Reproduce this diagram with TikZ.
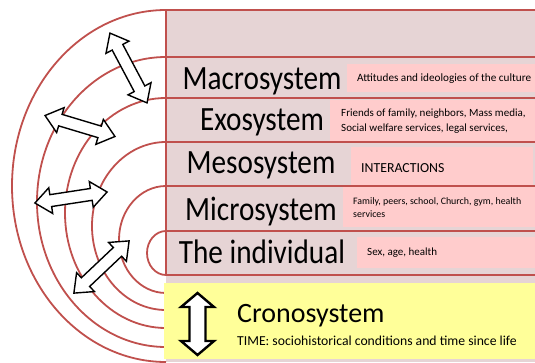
\documentclass[tikz,border=0pt]{standalone}
\usepackage{fontspec}
\setmainfont{Carlito}
\newfontfamily\squeezed[FakeStretch=0.86]{Carlito}
\usepackage{tikz}
\usetikzlibrary{calc}

\definecolor{ringred}{RGB}{192,80,77}
\definecolor{rowpink}{RGB}{230,212,213}
\definecolor{notepink}{RGB}{255,204,204}
\definecolor{cronoyellow}{RGB}{255,255,153}

\tikzset{
  ring/.style={draw=ringred, line width=1.8pt},
  bigtag/.style={anchor=base, inner sep=0pt, font=\squeezed\fontsize{34}{36}\selectfont},
  notebox/.style={anchor=north west, fill=notepink, inner sep=0pt},
  notetext/.style={anchor=west, inner sep=0pt, align=left, xshift=10pt},
  twoway/.style={draw=black, fill=white, line width=1.4pt, line join=miter}
}

\begin{document}
\begin{tikzpicture}[x=1pt, y=-1pt]
\useasboundingbox (0,0) rectangle (535,362);

% band of rows on the right
\fill[rowpink] (166,10) rectangle (535,362);

% note boxes
\node[notebox, minimum width=188pt, minimum height=28pt] (macronote) at (347,64) {};
\node[notebox, minimum width=205pt, minimum height=42pt] (exonote) at (330,100) {};
\node[notebox, minimum width=182pt, minimum height=38pt] (mesonote) at (351,147) {};
\node[notebox, minimum width=192pt, minimum height=40pt] (micronote) at (343,187) {};
\node[notebox, minimum width=178pt, minimum height=31pt] (indivnote) at (357,237) {};

\node[notetext, font=\fontsize{11.2}{13}\selectfont] (macrotext) at (macronote.west) {Attitudes and ideologies of the culture};
\node[notetext, font=\fontsize{11}{15}\selectfont, xshift=1pt] (exotext) at (exonote.west) {Friends of family, neighbors, Mass media,\\Social welfare services, legal services,};
\node[notetext, font=\fontsize{13.8}{15}\selectfont, yshift=-2pt] (mesotext) at (mesonote.west) {INTERACTIONS};
\node[notetext, font=\fontsize{9.9}{13}\selectfont] (microtext) at (micronote.west) {Family, peers, school, Church, gym, health\\services};
\node[notetext, font=\fontsize{11}{13}\selectfont] (indivtext) at (indivnote.west) {Sex, age, health};

% row lines
\foreach \y in {10, 57, 98, 142, 186, 231, 275}{
  \draw[ring] (166,\y) -- (535,\y);
}
\draw[ring] (166,10) -- (166,275);

% nested half rings
\foreach \top/\rx/\ry in {10/154/176, 57/129/145, 98/101/115, 142/74/84, 186/47/53.5, 231/19/22}{
  \draw[ring] (166,\top) arc[start angle=90, end angle=270, x radius=\rx pt, y radius=\ry pt];
}

% system names
\node[bigtag] (macro) at (262,89) {Macrosystem};
\node[bigtag] (exo) at (262,130) {Exosystem};
\node[bigtag] (meso) at (261,173) {Mesosystem};
\node[bigtag] (micro) at (261,220) {Microsystem};
\node[bigtag] (indiv) at (262,263) {The individual};

% time box
\node[anchor=north west, fill=cronoyellow, minimum width=371pt, minimum height=76pt, inner sep=0pt] (crono) at (164,283) {};
\node[anchor=base west, inner sep=0pt, font=\fontsize{28}{30}\selectfont] (cronotitle) at (237,322) {Cronosystem};
\node[anchor=base west, inner sep=0pt, font=\fontsize{13.7}{15}\selectfont] (cronotime) at (237,345) {TIME: sociohistorical conditions and time since life};

% two-way arrows across the rings
\foreach \cx/\cy/\ang/\half in {128.5/68/-62/39.5, 80/126/-16.7/36.5, 71/197.5/8.7/36.5, 101.5/267/43.4/38}{
  \begin{scope}[shift={(\cx,\cy)}, rotate=\ang]
    \draw[twoway] (-\half,0) -- (-\half+16,13) -- (-\half+16,6) -- (\half-16,6) -- (\half-16,13)
      -- (\half,0) -- (\half-16,-13) -- (\half-16,-6) -- (-\half+16,-6) -- (-\half+16,-13) -- cycle;
  \end{scope}
}
\begin{scope}[shift={(197.5,324)}, rotate=90]
  \draw[twoway, line width=2.4pt] (-31,0) -- (-17,16.5) -- (-17,8) -- (17,8) -- (17,16.5)
    -- (31,0) -- (17,-16.5) -- (17,-8) -- (-17,-8) -- (-17,-16.5) -- cycle;
\end{scope}
\end{tikzpicture}
\end{document}
